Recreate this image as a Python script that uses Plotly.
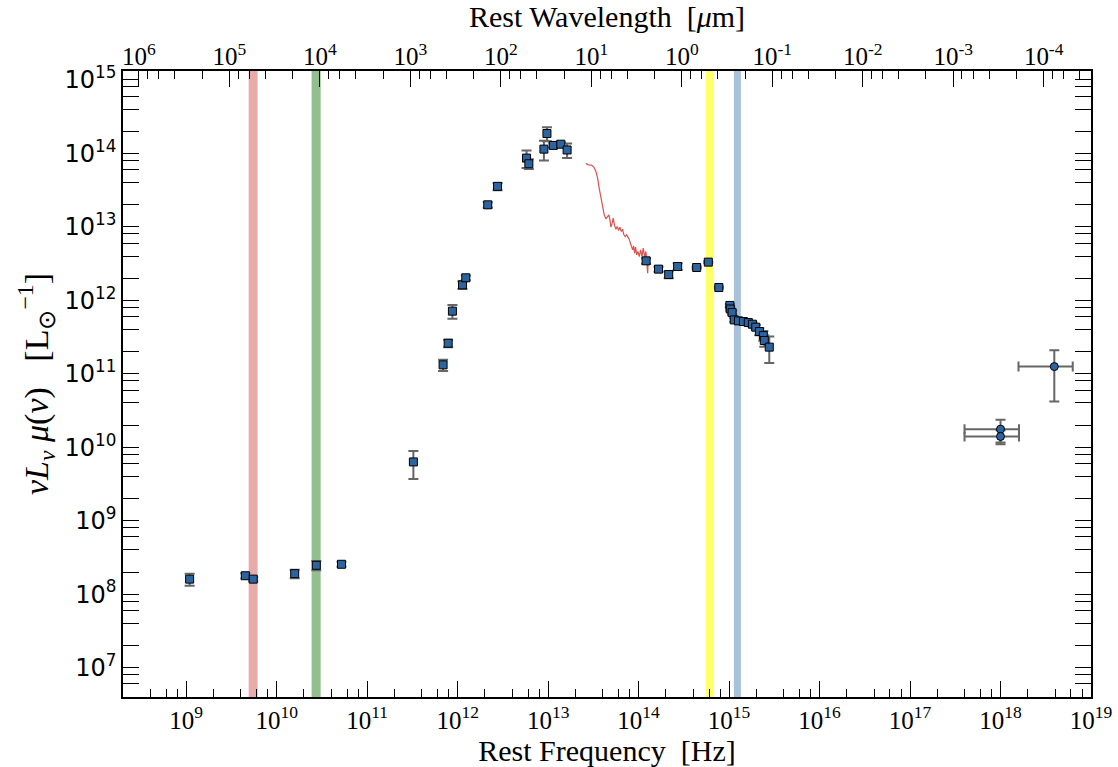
import numpy as np
import plotly.graph_objects as go

# ---- photometry: rest frequency [Hz], nu L_nu mu [L_sun], 1-sigma error ----
phot_nu = [1.09e9, 4.5e9, 5.5e9, 1.58e10, 2.74e10, 5.2e10,
           3.24e11, 6.9e11, 7.85e11, 8.75e11, 1.13e12, 1.23e12,
           2.15e12, 2.76e12, 5.77e12, 6.12e12, 8.98e12, 9.7e12,
           1.14e13, 1.38e13, 1.62e13,
           1.21e14, 1.66e14, 2.15e14, 2.7e14, 4.38e14, 5.89e14, 7.7e14,
           1.02e15, 1.03e15, 1.08e15, 1.14e15, 1.27e15, 1.44e15, 1.63e15,
           1.81e15, 1.97e15, 2.16e15, 2.39e15, 2.45e15, 2.78e15]
phot_L = [1.6e8, 1.78e8, 1.6e8, 1.9e8, 2.47e8, 2.55e8,
          6.3e9, 1.32e11, 2.6e11, 7.1e11, 1.62e12, 2.02e12,
          1.99e13, 3.55e13, 8.6e13, 7.2e13, 1.14e14, 1.86e14,
          1.28e14, 1.33e14, 1.11e14,
          3.44e12, 2.65e12, 2.24e12, 2.88e12, 2.79e12, 3.3e12, 1.49e12,
          8.5e11, 7.6e11, 6.8e11, 5.4e11, 5.24e11, 5.13e11, 4.97e11,
          4.72e11, 4.3e11, 3.75e11, 3.3e11, 2.83e11, 2.3e11]
phot_err = [0.3e8, 0.15e8, 0.1e8, 0.25e8, 0.35e8, 0.2e8,
            2.6e9, 0.23e11, 0.3e11, 1.5e11, 0.2e12, 0.15e12,
            0.17e13, 0.4e13, 2.3e13, 1.1e13, 3.4e13, 0.4e14,
            0.08e14, 0.08e14, 0.25e14,
            0.3e12, 0.2e12, 0.25e12, 0.3e12, 0.08e12, 0.1e12, 0.05e12,
            0.4e11, 0.4e11, 0.4e11, 0.3e11, 0.3e11, 0.3e11, 0.3e11,
            0.3e11, 0.3e11, 0.4e11, 0.5e11, 0.5e11, 0.9e11]

# ---- X-ray points ----
xray_nu = [1.0e18, 1.0e18, 3.93e18]
xray_nu_err = [0.6e18, 0.6e18, 2.35e18]
xray_L = [1.76e10, 1.4e10, 1.25e11]
xray_L_err = [0.6e10, 0.3e10, 8.3e10]

# ---- mid-IR spectrum (log10 nu, log10 nu L_nu mu) ----
spec_lognu = [13.417, 13.443, 13.480, 13.506, 13.528, 13.547, 13.564, 13.583,
              13.602, 13.620, 13.638, 13.657, 13.671, 13.683, 13.694, 13.708,
              13.719, 13.735, 13.749, 13.763, 13.779, 13.793, 13.808, 13.823,
              13.837, 13.852, 13.867, 13.882, 13.896, 13.911, 13.922, 13.934,
              13.945, 13.956, 13.967, 13.978, 13.992, 14.007, 14.022, 14.037,
              14.051, 14.066, 14.081, 14.100, 14.106]
spec_logL = [13.866, 13.843, 13.839, 13.812, 13.752, 13.662, 13.526, 13.390,
             13.275, 13.162, 13.108, 13.131, 13.162, 13.094, 12.995, 13.049,
             13.117, 13.012, 12.967, 13.003, 12.949, 12.995, 12.935, 12.967,
             12.890, 12.866, 12.890, 12.859, 12.831, 12.768, 12.709, 12.686,
             12.740, 12.641, 12.723, 12.618, 12.663, 12.595, 12.686, 12.595,
             12.709, 12.595, 12.663, 12.369, 12.550]

# ---- observing bands: frequency edges [Hz] ----
band_lo = [4.9e9, 2.43e10, 5.55e14, 1.13e15]
band_hi = [6.15e9, 3.06e10, 6.63e14, 1.35e15]
band_colors = ["#e9aaaa", "#93bf8f", "#ffff66", "#aac1da"]

# ---- axis ticks ----
freq_exp = list(range(9, 20))
lum_exp = list(range(7, 16))
wave_exp = list(range(6, -5, -1))   # micron

C_MICRON = 2.998e14  # c in micron/s

XR = [np.log10(2e8), 19.0]
YR = [6.6, 15.12]

def sup(e):
    return "10<sup>%d</sup>" % e

x_major = [10.0 ** e for e in freq_exp]
x_minor = [m * 10.0 ** e for e in range(8, 19) for m in (2, 4, 6, 8)]
y_major = [10.0 ** e for e in lum_exp]
y_minor = [m * 10.0 ** e for e in range(6, 16) for m in (2, 4, 6, 8)]
w_major = [C_MICRON / 10.0 ** e for e in wave_exp]
w_minor = [C_MICRON / (m * 10.0 ** e) for e in range(-5, 7) for m in (2, 4, 6, 8)]
w_minor = [v for v in w_minor if XR[0] <= np.log10(v) <= XR[1]]

marker_fill = "#2d64a0"
err_col = "#666666"

fig = go.Figure()

for lo, hi, col in zip(band_lo, band_hi, band_colors):
    fig.add_shape(type="rect", xref="x", yref="paper", x0=lo, x1=hi, y0=0, y1=1,
                  fillcolor=col, line_width=0, layer="below")

fig.add_trace(go.Scatter(
    x=[10 ** v for v in spec_lognu], y=[10 ** v for v in spec_logL],
    mode="lines", line=dict(color="#d9534f", width=1.2), showlegend=False))

fig.add_trace(go.Scatter(
    x=phot_nu, y=phot_L, mode="markers",
    error_y=dict(type="data", array=phot_err, color=err_col, thickness=2, width=5),
    marker=dict(symbol="square", size=8, color=marker_fill,
                line=dict(color="black", width=1)),
    showlegend=False))

fig.add_trace(go.Scatter(
    x=xray_nu, y=xray_L, mode="markers",
    error_y=dict(type="data", array=xray_L_err, color=err_col, thickness=2, width=5),
    error_x=dict(type="data", array=xray_nu_err, color=err_col, thickness=2, width=5),
    marker=dict(symbol="circle", size=8, color=marker_fill,
                line=dict(color="black", width=1)),
    showlegend=False))

# carrier for the wavelength axis on top
fig.add_trace(go.Scatter(x=[], y=[], xaxis="x2", showlegend=False))

serif = "Liberation Serif"
fig.update_layout(
    width=1118, height=767,
    margin=dict(l=123, r=27, t=71, b=70),
    plot_bgcolor="white", paper_bgcolor="white",
    xaxis=dict(
        type="log", range=XR, showgrid=False, zeroline=False, automargin=False,
        showline=True, linecolor="black", linewidth=1.5, mirror=True,
        ticks="inside", ticklen=16, tickwidth=1, tickcolor="black",
        tickmode="array", tickvals=x_major, ticktext=[sup(e) for e in freq_exp],
        minor=dict(ticks="inside", ticklen=8, tickwidth=1, tickcolor="black",
                   tickmode="array", tickvals=x_minor),
        tickfont=dict(family=serif, size=25, color="black"),
        title=dict(text="Rest Frequency  [Hz]",
                   font=dict(family=serif, size=30, color="black"), standoff=6),
    ),
    xaxis2=dict(
        type="log", range=XR, overlaying="x", side="top", anchor="y",
        showgrid=False, zeroline=False, showline=False, automargin=False,
        ticks="inside", ticklen=16, tickwidth=1, tickcolor="black",
        tickmode="array", tickvals=w_major, ticktext=[sup(e) for e in wave_exp],
        minor=dict(ticks="inside", ticklen=8, tickwidth=1, tickcolor="black",
                   tickmode="array", tickvals=w_minor),
        tickfont=dict(family=serif, size=25, color="black"),
        title=dict(text="Rest Wavelength  [<i>μ</i>m]",
                   font=dict(family=serif, size=30, color="black"), standoff=4),
    ),
    yaxis=dict(
        type="log", range=YR, showgrid=False, zeroline=False, automargin=False,
        showline=True, linecolor="black", linewidth=1.5, mirror="allticks",
        ticks="inside", ticklen=16, tickwidth=1, tickcolor="black",
        tickmode="array", tickvals=y_major, ticktext=[sup(e) for e in lum_exp],
        minor=dict(ticks="inside", ticklen=8, tickwidth=1, tickcolor="black",
                   tickmode="array", tickvals=y_minor),
        tickfont=dict(family="DejaVu Sans", size=24, color="black"),
        title=dict(text="<i>νL<sub>ν</sub> μ</i>(<i>ν</i>)   [L<sub>⊙</sub><sup>−1</sup>]",
                   font=dict(family=serif, size=34, color="black"), standoff=6),
    ),
)

fig.write_html("out.html")
